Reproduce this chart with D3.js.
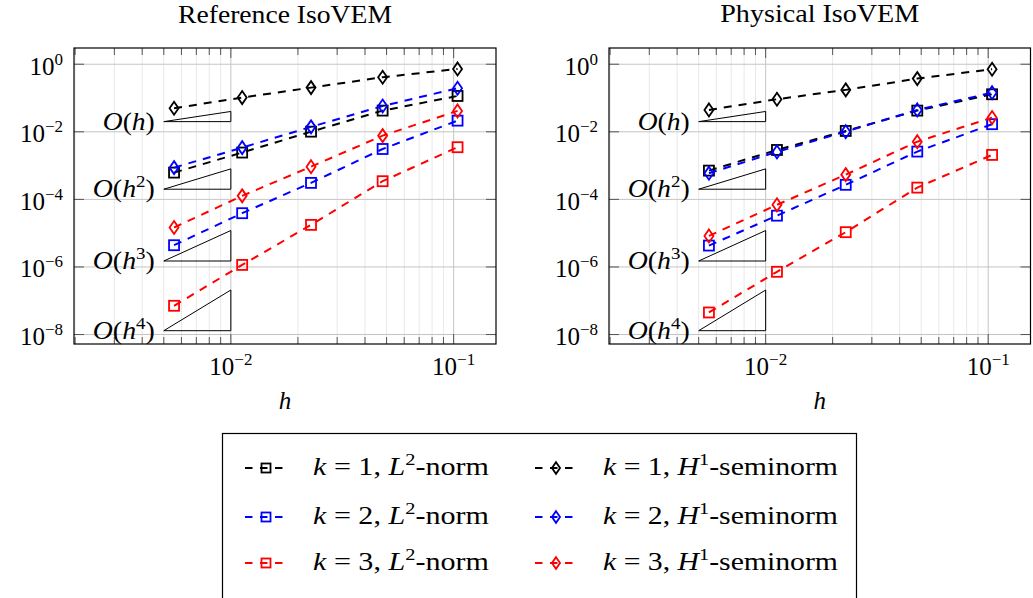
<!DOCTYPE html>
<html>
<head>
<meta charset="utf-8">
<script src="https://cdn.jsdelivr.net/npm/d3@7"></script>
<style>
  body { margin: 0; background: #fff; }
  svg { font-family: "Liberation Serif", "DejaVu Serif", serif; }
</style>
</head>
<body>
<svg id="chart" width="1033" height="598"></svg>
<script>
// mesh sizes
const hValues = [0.00556, 0.01124, 0.0229, 0.0480, 0.1041];

// Reference IsoVEM errors
const refL2k1 = [6.2e-4, 2.43e-3, 1.01e-2, 4.24e-2, 1.15e-1];
const refH1k1 = [4.99e-2, 1.03e-1, 2.03e-1, 4.12e-1, 7.26e-1];
const refL2k2 = [4.4e-6, 3.9e-5, 3.08e-4, 3.1e-3, 2.14e-2];
const refH1k2 = [8.7e-4, 3.4e-3, 1.4e-2, 5.8e-2, 1.95e-1];
const refL2k3 = [7.1e-8, 1.15e-6, 1.76e-5, 3.45e-4, 3.5e-3];
const refH1k3 = [1.47e-5, 1.27e-4, 9.3e-4, 7.7e-3, 4.15e-2];

// Physical IsoVEM errors
const phyL2k1 = [7.1e-4, 2.9e-3, 1.06e-2, 4.24e-2, 1.29e-1];
const phyH1k1 = [4.45e-2, 9.2e-2, 1.74e-1, 3.75e-1, 7.11e-1];
const phyL2k2 = [4.3e-6, 3.3e-5, 2.7e-4, 2.6e-3, 1.68e-2];
const phyH1k2 = [5.96e-4, 2.54e-3, 1.01e-2, 4.45e-2, 1.44e-1];
const phyL2k3 = [4.5e-8, 7.2e-7, 1.07e-5, 2.23e-4, 2.07e-3];
const phyH1k3 = [8.3e-6, 6.9e-5, 5.4e-4, 5.1e-3, 2.63e-2];

// slope triangles: h from 0.005 to 0.01
const triH = [0.005, 0.01];
const triOrders = [1, 2, 3, 4];
const triBase = [2e-2, 2e-4, 1.5e-6, 1.3e-8];

const yTicks = [1, 1e-2, 1e-4, 1e-6, 1e-8];
const yTickExp = ["0", "−2", "−4", "−6", "−8"];
const xTicks = [1e-2, 1e-1];
const xTickExp = ["−2", "−1"];

const seriesKeys = ["L2k1", "H1k1", "L2k2", "H1k2", "L2k3", "H1k3"];
const seriesColor = { L2k1: "#000", H1k1: "#000", L2k2: "#0000ff", H1k2: "#0000ff", L2k3: "#ff0000", H1k3: "#ff0000" };

const svg = d3.select("#chart");

// stretch text horizontally to mimic the wider Computer Modern face
function fitWidth(t, target) {
  t.attr("textLength", target).attr("lengthAdjust", "spacingAndGlyphs");
}

function addPow(sel, exp) {
  sel.append("tspan").text("10");
  sel.append("tspan").attr("dy", -10).attr("font-size", 17).text(exp);
}

function drawMark(g, type, cx, cy, color, s) {
  if (type === "L2") {
    g.append("rect")
      .attr("x", cx - s).attr("y", cy - s)
      .attr("width", 2 * s).attr("height", 2 * s)
      .attr("fill", "none").attr("stroke", color).attr("stroke-width", 1.8);
  } else {
    const w = s * 0.9, hh = s * 1.3;
    g.append("path")
      .attr("d", `M${cx},${cy - hh}L${cx + w},${cy}L${cx},${cy + hh}L${cx - w},${cy}Z`)
      .attr("fill", "none").attr("stroke", color).attr("stroke-width", 1.8);
  }
}

function drawPanel(left, right, title, titleY, titleW, data) {
  const top = 48, bottom = 344;
  const x = d3.scaleLog().domain([0.001977, 0.1549]).range([left, right]);
  const y = d3.scaleLog().domain([5.25e-9, 3.02]).range([bottom, top]);
  const g = svg.append("g");

  // minor grid
  const minor = [];
  [1e-3, 1e-2].forEach(d => { for (let m = 2; m <= 9; m++) minor.push(m * d); });
  const minorIn = minor.filter(v => x(v) > left + 0.5 && x(v) < right - 0.5);
  g.selectAll(".mg").data(minorIn).enter().append("line")
    .attr("x1", d => x(d)).attr("x2", d => x(d)).attr("y1", top).attr("y2", bottom)
    .attr("stroke", "#e8e8e8").attr("stroke-width", 1);

  // major grid
  g.selectAll(".gx").data(xTicks).enter().append("line")
    .attr("x1", d => x(d)).attr("x2", d => x(d)).attr("y1", top).attr("y2", bottom)
    .attr("stroke", "#c4c4c4").attr("stroke-width", 1);
  g.selectAll(".gy").data(yTicks).enter().append("line")
    .attr("x1", left).attr("x2", right).attr("y1", d => y(d)).attr("y2", d => y(d))
    .attr("stroke", "#c4c4c4").attr("stroke-width", 1);

  // ticks
  minorIn.forEach(v => {
    g.append("line").attr("x1", x(v)).attr("x2", x(v)).attr("y1", top).attr("y2", top + 7).attr("stroke", "#555");
    g.append("line").attr("x1", x(v)).attr("x2", x(v)).attr("y1", bottom).attr("y2", bottom - 7).attr("stroke", "#555");
  });
  xTicks.forEach(v => {
    g.append("line").attr("x1", x(v)).attr("x2", x(v)).attr("y1", top).attr("y2", top + 10).attr("stroke", "#555");
    g.append("line").attr("x1", x(v)).attr("x2", x(v)).attr("y1", bottom).attr("y2", bottom - 10).attr("stroke", "#555");
  });
  yTicks.forEach(v => {
    g.append("line").attr("x1", left).attr("x2", left + 10).attr("y1", y(v)).attr("y2", y(v)).attr("stroke", "#555");
    g.append("line").attr("x1", right).attr("x2", right - 10).attr("y1", y(v)).attr("y2", y(v)).attr("stroke", "#555");
  });

  // slope triangles
  triOrders.forEach((p, i) => {
    const b = triBase[i];
    const x0 = x(triH[0]), x1 = x(triH[1]);
    const y0 = y(b), y1 = y(b * Math.pow(triH[1] / triH[0], p));
    g.append("path")
      .attr("d", `M${x0},${y0}L${x1},${y0}L${x1},${y1}Z`)
      .attr("fill", "none").attr("stroke", "#000").attr("stroke-width", 1);
    const t = g.append("text").attr("x", x0 - 9).attr("y", y0 + 8)
      .attr("text-anchor", "end").attr("font-size", 25);
    t.append("tspan").attr("font-style", "italic").text("O");
    t.append("tspan").text("(");
    t.append("tspan").attr("font-style", "italic").text("h");
    if (p > 1) {
      t.append("tspan").attr("dy", -10).attr("font-size", 17).text(p);
      t.append("tspan").attr("dy", 10).text(")");
      fitWidth(t, 62);
    } else {
      t.append("tspan").text(")");
      fitWidth(t, 52);
    }
  });

  // series
  const line = d3.line().x(d => x(d[0])).y(d => y(d[1]));
  seriesKeys.forEach(k => {
    const pts = hValues.map((h, i) => [h, data[k][i]]);
    g.append("path").datum(pts).attr("d", line)
      .attr("fill", "none").attr("stroke", seriesColor[k])
      .attr("stroke-width", 2).attr("stroke-dasharray", "8,7");
    pts.forEach(p => drawMark(g, k.slice(0, 2), x(p[0]), y(p[1]), seriesColor[k], 5));
  });

  // frame
  g.append("rect").attr("x", left).attr("y", top)
    .attr("width", right - left).attr("height", bottom - top)
    .attr("fill", "none").attr("stroke", "#000").attr("stroke-width", 1.2);

  // y tick labels
  yTicks.forEach((v, i) => {
    const t = g.append("text").attr("x", left - 11).attr("y", y(v) + 10.5)
      .attr("text-anchor", "end").attr("font-size", 25);
    addPow(t, yTickExp[i]);
  });
  // x tick labels
  xTicks.forEach((v, i) => {
    const t = g.append("text").attr("x", x(v)).attr("y", 375)
      .attr("text-anchor", "middle").attr("font-size", 25);
    addPow(t, xTickExp[i]);
  });

  g.append("text").attr("x", (left + right) / 2).attr("y", 409)
    .attr("text-anchor", "middle").attr("font-size", 25).attr("font-style", "italic").text("h");

  const tt = g.append("text").attr("x", (left + right) / 2).attr("y", titleY)
    .attr("text-anchor", "middle").attr("font-size", 26).text(title);
  fitWidth(tt, titleW);
}

drawPanel(74, 496, "Reference IsoVEM", 23, 214,
  { L2k1: refL2k1, H1k1: refH1k1, L2k2: refL2k2, H1k2: refH1k2, L2k3: refL2k3, H1k3: refH1k3 });
drawPanel(609, 1030.5, "Physical IsoVEM", 22, 199,
  { L2k1: phyL2k1, H1k1: phyH1k1, L2k2: phyL2k2, H1k2: phyH1k2, L2k3: phyL2k3, H1k3: phyH1k3 });

// legend
const legend = svg.append("g");
legend.append("rect").attr("x", 222.5).attr("y", 433.5).attr("width", 634).attr("height", 200)
  .attr("fill", "#fff").attr("stroke", "#000").attr("stroke-width", 1.2);

const legendRows = [468, 517, 563];
const legendCols = [{ mx: 266, tx: 313, type: "L2", w: 176 }, { mx: 556, tx: 603, type: "H1", w: 235 }];
const legendK = [1, 2, 3];

legendK.forEach((kk, r) => {
  legendCols.forEach(c => {
    const color = seriesColor[c.type + "k" + kk];
    const cy = legendRows[r];
    legend.append("line").attr("x1", c.mx - 21).attr("x2", c.mx + 21).attr("y1", cy).attr("y2", cy)
      .attr("stroke", color).attr("stroke-width", 2).attr("stroke-dasharray", "7.5,7.5");
    drawMark(legend, c.type, c.mx, cy, color, 4.5);
    const t = legend.append("text").attr("x", c.tx).attr("y", cy + 7).attr("font-size", 25);
    t.append("tspan").attr("font-style", "italic").text("k");
    t.append("tspan").text(` = ${kk}, `);
    t.append("tspan").attr("font-style", "italic").text(c.type === "L2" ? "L" : "H");
    t.append("tspan").attr("dy", -10).attr("font-size", 17).text(c.type === "L2" ? "2" : "1");
    t.append("tspan").attr("dy", 10).text(c.type === "L2" ? "-norm" : "-seminorm");
    fitWidth(t, c.w);
  });
});
</script>
</body>
</html>
